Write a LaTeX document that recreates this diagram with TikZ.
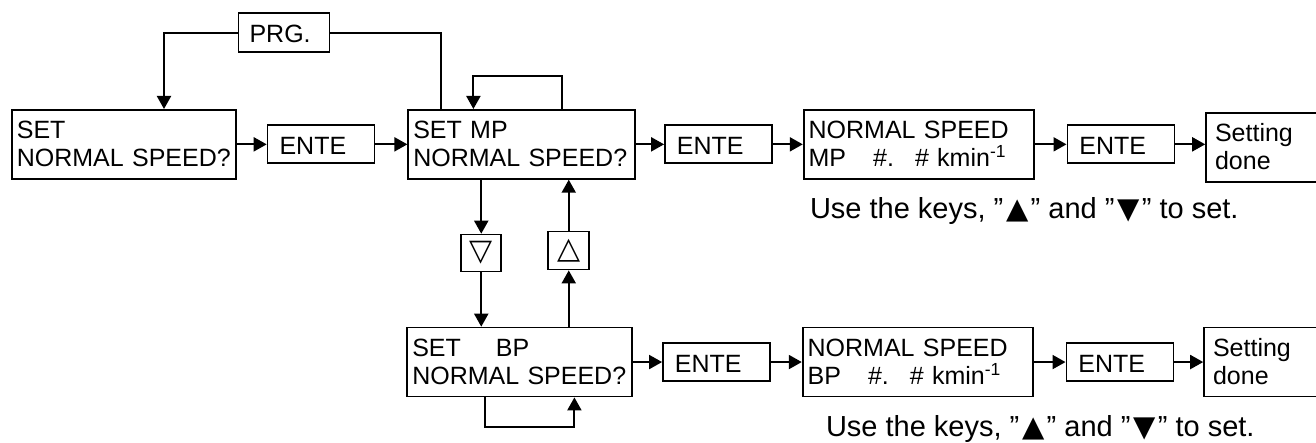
\documentclass[tikz,border=0pt]{standalone}
\usepackage{fontspec}
\setmainfont{Liberation Sans}
\newfontfamily\trifont{DejaVu Sans}
\usetikzlibrary{arrows.meta, positioning}

\begin{document}
\begin{tikzpicture}[
    node distance=30pt,
    panel/.style={rectangle, draw, line width=1.7pt, inner xsep=5pt, inner ysep=0pt, align=left, text height=28.5pt, text depth=40.5pt, font=\fontsize{25pt}{28.5pt}\selectfont},
    keybox/.style={rectangle, draw, line width=1.7pt, inner xsep=12pt, inner ysep=0pt, align=left, text width=83pt, text height=29pt, text depth=9pt, font=\fontsize{25pt}{28.5pt}\selectfont},
    arrowkey/.style={rectangle, draw, line width=1.7pt, inner sep=0pt, minimum width=40pt, minimum height=37pt, font=\trifont\fontsize{30pt}{30pt}\selectfont},
    hint/.style={inner sep=0pt, font=\fontsize{29pt}{32pt}\selectfont},
    arr/.style={-{Triangle[length=13pt, width=14pt]}, line width=2pt},
    link/.style={line width=2pt},
]
    \useasboundingbox (0pt,0pt) rectangle (1316pt,-443pt);

    % MP row
    \node[panel, text width=214pt, anchor=north west] (setq) at (11pt,-109pt) {SET\\NORMAL SPEED?};
    \node[keybox, right=of setq] (ente1) {ENTE};
    \node[panel, text width=217pt, right=32pt of ente1] (setmp) {SET MP\\NORMAL SPEED?};
    \node[keybox, right=28pt of setmp] (ente2) {ENTE};
    \node[panel, text width=220pt, right=of ente2] (nsmp) {NORMAL SPEED\\MP\hspace{27pt}\#.\hspace{21pt}\# kmin\textsuperscript{-1}};
    \node[keybox, right=32pt of nsmp] (ente3) {ENTE};
    \node[panel, inner xsep=9pt, text width=115pt, right=of ente3, yshift=-3pt] (donemp) {Setting\\done};
    \node[hint, anchor=base west] (hintmp) at ([xshift=7pt, yshift=-39pt]nsmp.south west) {Use the keys, ”\hspace{3pt}{\trifont ▲}\hspace{2pt}” and ”\hspace{3pt}{\trifont ▼}\hspace{2pt}” to set.};

    \node[keybox, inner xsep=11pt, text width=69pt, text depth=10pt, above right=56pt and 1pt of setq] (prg) {PRG.};

    % up / down keys
    \node[arrowkey, below right=54pt and 53pt of setmp.south west] (dnkey) {▽};
    \node[arrowkey, minimum width=41pt, minimum height=38pt, below right=51pt and 140pt of setmp.south west] (upkey) {△};

    % BP row
    \node[panel, text width=215pt, below=147pt of setmp, xshift=-2pt] (setbp) {SET\hspace{35pt}BP\\NORMAL SPEED?};
    \node[keybox, right=29pt of setbp] (ente4) {ENTE};
    \node[panel, text width=220pt, right=31pt of ente4] (nsbp) {NORMAL SPEED\\BP\hspace{27pt}\#.\hspace{21pt}\# kmin\textsuperscript{-1}};
    \node[keybox, right=32pt of nsbp] (ente5) {ENTE};
    \node[panel, inner xsep=9pt, text width=115pt, right=29pt of ente5] (donebp) {Setting\\done};
    \node[hint, anchor=base west] (hintbp) at ([xshift=24pt, yshift=-39pt]nsbp.south west) {Use the keys, ”\hspace{3pt}{\trifont ▲}\hspace{2pt}” and ”\hspace{3pt}{\trifont ▼}\hspace{2pt}” to set.};

    \draw[arr] (prg.west) -| ([xshift=153pt]setq.north west);
    \draw[link] (prg.east) -| ([xshift=34pt]setmp.north west);
    \draw[arr] (setq.east) -- (ente1.west);
    \draw[arr] (ente1.east) -- (setmp.west);
    \draw[arr] ([xshift=155pt]setmp.north west) -- ++(0pt,33pt) -| ([xshift=66pt]setmp.north west);
    \draw[arr] (setmp.east) -- (ente2.west);
    \draw[arr] (ente2.east) -- (nsmp.west);
    \draw[arr] (nsmp.east) -- (ente3.west);
    \draw[arr] (ente3.east) -- (ente3.east -| donemp.west);

    \draw[arr] (setmp.south -| dnkey) -- (dnkey);
    \draw[arr] (dnkey) -- (dnkey |- setbp.north);
    \draw[arr] (upkey |- setbp.north) -- (upkey);
    \draw[arr] (upkey) -- (upkey |- setmp.south);

    \draw[arr] ([xshift=79pt]setbp.south west) -- ++(0pt,-30pt) -| ([xshift=168pt]setbp.south west);
    \draw[arr] (setbp.east) -- (ente4.west);
    \draw[arr] (ente4.east) -- (nsbp.west);
    \draw[arr] (nsbp.east) -- (ente5.west);
    \draw[arr] (ente5.east) -- (donebp.west);
\end{tikzpicture}
\end{document}
